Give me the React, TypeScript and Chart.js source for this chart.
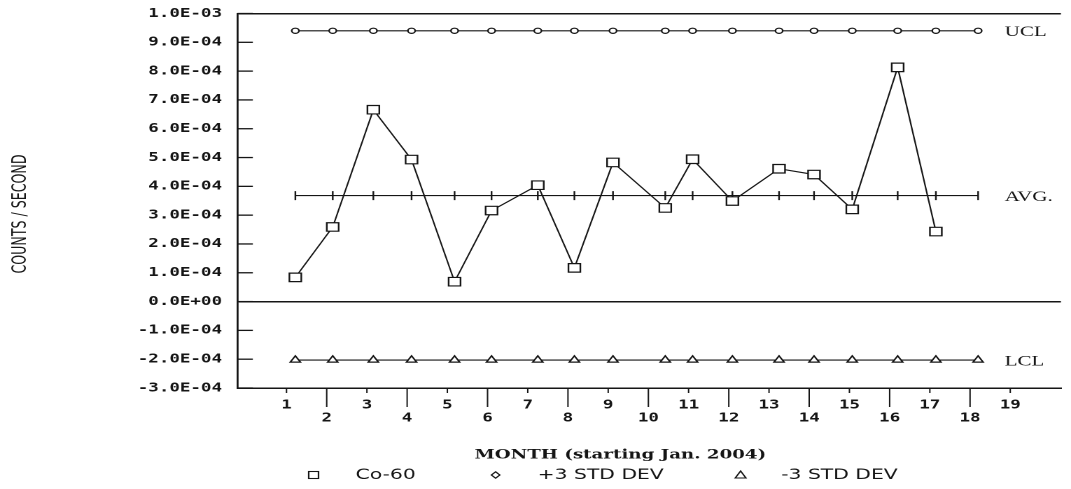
import React, { useEffect, useRef } from "react";
import { Chart, registerables } from "chart.js";

Chart.register(...registerables);

// ---------- data ----------
const SAMPLE_MONTHS = [1.22, 2.15, 3.16, 4.11, 5.18, 6.1, 7.25, 8.16, 9.12, 10.42, 11.1, 12.09, 13.25, 14.12, 15.07, 16.2, 17.15, 18.2];
const CO60 = [0.84e-4, 2.59e-4, 6.66e-4, 4.93e-4, 0.69e-4, 3.16e-4, 4.04e-4, 1.17e-4, 4.83e-4, 3.25e-4, 4.94e-4, 3.49e-4, 4.61e-4, 4.41e-4, 3.2e-4, 8.13e-4, 2.43e-4];
const UCL = [9.4e-4, 9.4e-4, 9.4e-4, 9.4e-4, 9.4e-4, 9.4e-4, 9.4e-4, 9.4e-4, 9.4e-4, 9.4e-4, 9.4e-4, 9.4e-4, 9.4e-4, 9.4e-4, 9.4e-4, 9.4e-4, 9.4e-4, 9.4e-4];
const AVG = [3.68e-4, 3.68e-4, 3.68e-4, 3.68e-4, 3.68e-4, 3.68e-4, 3.68e-4, 3.68e-4, 3.68e-4, 3.68e-4, 3.68e-4, 3.68e-4, 3.68e-4, 3.68e-4, 3.68e-4, 3.68e-4, 3.68e-4, 3.68e-4];
const LCL = [-2.03e-4, -2.03e-4, -2.03e-4, -2.03e-4, -2.03e-4, -2.03e-4, -2.03e-4, -2.03e-4, -2.03e-4, -2.03e-4, -2.03e-4, -2.03e-4, -2.03e-4, -2.03e-4, -2.03e-4, -2.03e-4, -2.03e-4, -2.03e-4];

const X_TICKS = [1, 2, 3, 4, 5, 6, 7, 8, 9, 10, 11, 12, 13, 14, 15, 16, 17, 18, 19];
const X_TICK_LABELS = ["1", "2", "3", "4", "5", "6", "7", "8", "9", "10", "11", "12", "13", "14", "15", "16", "17", "18", "19"];
const X_MIN = -0.22;
const X_MAX = 20.26;

const Y_TICK_VALUES = [-3e-4, -2e-4, -1e-4, 0, 1e-4, 2e-4, 3e-4, 4e-4, 5e-4, 6e-4, 7e-4, 8e-4, 9e-4, 1e-3];
const Y_TICK_LABELS = ["-3.0E-04", "-2.0E-04", "-1.0E-04", "0.0E+00", "1.0E-04", "2.0E-04", "3.0E-04", "4.0E-04", "5.0E-04", "6.0E-04", "7.0E-04", "8.0E-04", "9.0E-04", "1.0E-03"];
const Y_MIN = -3e-4;
const Y_MAX = 1e-3;

const SERIES_NAMES = ["Co-60", "+3 STD DEV", "AVG.", "-3 STD DEV"];
const LIMIT_LABELS = ["UCL", "AVG.", "LCL"];
const X_TITLE = "MONTH (starting Jan. 2004)";
const Y_TITLE = "COUNTS / SECOND";

// ---------- layout / style ----------
const STRETCH = 1.4; // the scanned chart is horizontally stretched
const PAGE_W = 1071;
const PAGE_H = 489;
const CANVAS_W = Math.round(PAGE_W / STRETCH);
const INK = "#151515";
const TICK_FONT = { family: '"DejaVu Sans Mono", monospace', size: 12.5, weight: "bold" as const, lineHeight: 1.05 };

const decor = {
  id: "decor",
  afterDraw(chart: any) {
    const { ctx, chartArea, scales } = chart;
    const xs = scales.x;
    const ys = scales.y;
    ctx.save();
    ctx.strokeStyle = INK;
    ctx.fillStyle = INK;
    ctx.lineWidth = 1;

    // x tick marks (alternating short / long, pointing down)
    X_TICKS.forEach((v, i) => {
      const px = xs.getPixelForValue(v);
      ctx.beginPath();
      ctx.moveTo(px, chartArea.bottom);
      ctx.lineTo(px, chartArea.bottom + (i % 2 ? 19 : 5));
      ctx.stroke();
    });

    // y tick marks (pointing into the plot)
    ctx.lineWidth = 1.3;
    Y_TICK_VALUES.forEach((v) => {
      const py = ys.getPixelForValue(v);
      ctx.beginPath();
      ctx.moveTo(chartArea.left, py);
      ctx.lineTo(chartArea.left + 11, py);
      ctx.stroke();
    });

    // labels at the right end of the control lines
    ctx.font = '15px "Liberation Serif", serif';
    ctx.textAlign = "left";
    ctx.textBaseline = "middle";
    const lastX = xs.getPixelForValue(SAMPLE_MONTHS[SAMPLE_MONTHS.length - 1]) + 19;
    [UCL, AVG, LCL].forEach((s, i) => {
      ctx.fillText(LIMIT_LABELS[i], lastX, ys.getPixelForValue(s[s.length - 1]) + 1.5);
    });

    // x title
    ctx.font = 'bold 13px "DejaVu Serif", serif';
    ctx.textAlign = "center";
    ctx.fillText(X_TITLE, chartArea.left + (chartArea.right - chartArea.left) * 0.465, 455);

    // legend
    const ly = 475;
    ctx.font = '14.5px "DejaVu Sans", sans-serif';
    ctx.textAlign = "left";
    ctx.lineWidth = 1.1;
    const markers = [224, 354, 529];
    const texts = [254, 384, 558];
    ctx.strokeRect(markers[0] - 3.5, ly - 3.5, 7, 7);
    ctx.beginPath();
    ctx.moveTo(markers[1], ly - 3.2);
    ctx.lineTo(markers[1] + 3, ly);
    ctx.lineTo(markers[1], ly + 3.2);
    ctx.lineTo(markers[1] - 3, ly);
    ctx.closePath();
    ctx.stroke();
    ctx.beginPath();
    ctx.moveTo(markers[2], ly - 4);
    ctx.lineTo(markers[2] + 3.8, ly + 3);
    ctx.lineTo(markers[2] - 3.8, ly + 3);
    ctx.closePath();
    ctx.stroke();
    ctx.fillText(SERIES_NAMES[0], texts[0], ly);
    ctx.fillText(SERIES_NAMES[1], texts[1], ly);
    ctx.fillText(SERIES_NAMES[3], texts[2], ly);

    // y title
    ctx.save();
    ctx.translate(15, 214);
    ctx.rotate(-Math.PI / 2);
    try {
      (ctx as any).fontStretch = "condensed";
    } catch (e) {}
    ctx.font = '14px "DejaVu Sans Condensed", "DejaVu Sans", sans-serif';
    ctx.textAlign = "center";
    ctx.textBaseline = "middle";
    ctx.fillText(Y_TITLE, 0, 0);
    ctx.restore();

    ctx.restore();
  },
};

export default function App() {
  const ref = useRef<HTMLCanvasElement>(null);

  useEffect(() => {
    document.body.style.margin = "0";
    const canvas = ref.current;
    if (!canvas) return;
    const pts = (ys: number[]) => ys.map((y, i) => ({ x: SAMPLE_MONTHS[i], y }));
    const common = {
      borderColor: INK,
      borderWidth: 1.1,
      pointBackgroundColor: "#ffffff",
      pointBorderColor: INK,
      pointBorderWidth: 1.2,
      tension: 0,
      fill: false,
    };
    const chart = new Chart(canvas, {
      type: "line",
      data: {
        datasets: [
          { ...common, label: SERIES_NAMES[0], data: pts(CO60), pointStyle: "rect", pointRadius: 6 },
          { ...common, label: SERIES_NAMES[1], data: pts(UCL), pointStyle: "circle", pointRadius: 2.6 },
          { ...common, label: SERIES_NAMES[2], data: pts(AVG), pointStyle: "line", pointRotation: 90, pointRadius: 4.5 },
          { ...common, label: SERIES_NAMES[3], data: pts(LCL), pointStyle: "triangle", pointRadius: 4.2 },
        ],
      } as any,
      options: {
        responsive: false,
        animation: false,
        devicePixelRatio: 2,
        events: [],
        layout: { padding: { top: 13.5, left: 0, right: 0, bottom: 0 } },
        plugins: {
          legend: { display: false },
          tooltip: { enabled: false },
          title: { display: false },
        },
        scales: {
          x: {
            type: "linear",
            min: X_MIN,
            max: X_MAX,
            afterBuildTicks: (s: any) => {
              s.ticks = X_TICKS.map((v) => ({ value: v }));
            },
            afterFit: (s: any) => {
              s.height = PAGE_H - 388;
              s.paddingLeft = 0;
              s.paddingRight = 0;
            },
            grid: { display: false, drawTicks: false },
            border: { display: true, color: INK, width: 1.5 },
            ticks: {
              autoSkip: false,
              maxRotation: 0,
              minRotation: 0,
              padding: 10.5,
              color: INK,
              font: TICK_FONT,
              callback: (_v: any, i: number) => (i % 2 ? ["", X_TICK_LABELS[i]] : X_TICK_LABELS[i]),
            },
          },
          y: {
            type: "linear",
            min: Y_MIN,
            max: Y_MAX,
            afterBuildTicks: (s: any) => {
              s.ticks = Y_TICK_VALUES.map((v) => ({ value: v }));
            },
            afterFit: (s: any) => {
              s.width = 169.6;
              s.paddingTop = 0;
              s.paddingBottom = 0;
            },
            grid: {
              display: true,
              drawOnChartArea: true,
              drawTicks: false,
              lineWidth: 1.5,
              color: (c: any) =>
                c.tick && (Math.abs(c.tick.value) < 1e-12 || Math.abs(c.tick.value - Y_MAX) < 1e-12) ? INK : "rgba(0,0,0,0)",
            },
            border: { display: true, color: INK, width: 1.4 },
            ticks: {
              autoSkip: false,
              padding: 11,
              color: INK,
              font: TICK_FONT,
              callback: (_v: any, i: number) => Y_TICK_LABELS[i],
            },
          },
        },
      } as any,
      plugins: [decor],
    });
    return () => chart.destroy();
  }, []);

  return (
    <canvas
      ref={ref}
      width={CANVAS_W}
      height={PAGE_H}
      style={{ width: PAGE_W + "px", height: PAGE_H + "px", display: "block" }}
    />
  );
}
